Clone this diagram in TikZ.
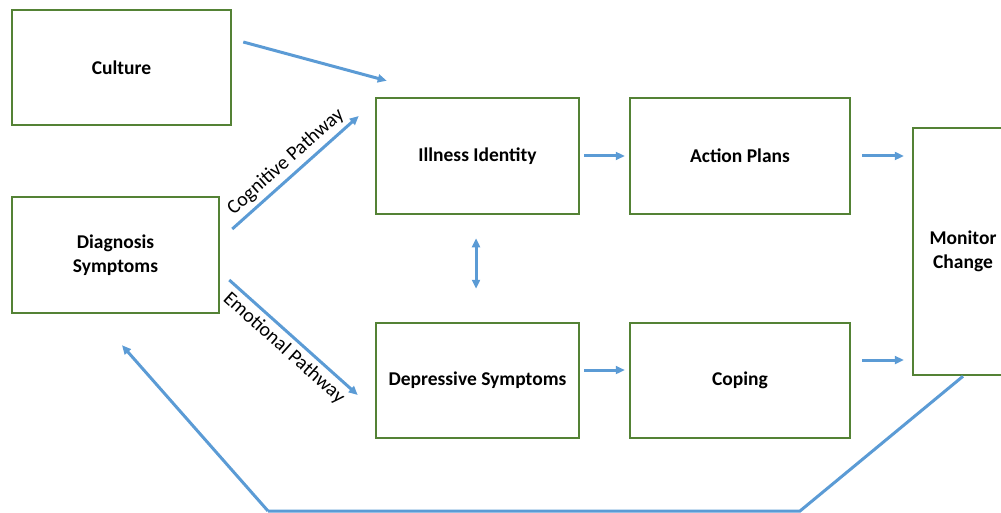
\documentclass[tikz,border=0pt]{standalone}
\usepackage{fontspec}
\setmainfont{Carlito}
\usetikzlibrary{arrows.meta}
\definecolor{boxgreen}{HTML}{548235}
\definecolor{arrowblue}{HTML}{5B9BD5}
\begin{document}
\begin{tikzpicture}[x=1pt,y=-1pt,
  box/.style={draw=boxgreen,line width=2.5pt,fill=white,inner sep=0pt,
    font=\fontsize{19.5}{24}\selectfont\bfseries,align=center},
  conn/.style={draw=arrowblue,line width=3pt,
    -{Triangle[length=9pt,width=8pt]}},
  twoway/.style={draw=arrowblue,line width=3pt,
    {Triangle[length=9pt,width=8pt]}-{Triangle[length=9pt,width=8pt]}},
  plain/.style={draw=arrowblue,line width=3pt,line join=miter},
  lab/.style={font=\fontsize{20}{24}\selectfont,sloped,midway}]
\useasboundingbox (0,0) rectangle (1001,513);
\clip (0,0) rectangle (1001,513);
\node[box,minimum width=219pt,minimum height=115pt] (culture) at (121.5,67.5) {Culture};
\node[box,minimum width=207pt,minimum height=116pt] (diag) at (115.5,255) {Diagnosis\\Symptoms};
\node[box,minimum width=203pt,minimum height=116pt] (ill) at (477.5,156) {Illness Identity};
\node[box,minimum width=220pt,minimum height=116pt] (act) at (740,156) {Action Plans};
\node[box,minimum width=203pt,minimum height=115pt] (dep) at (477.5,380.5) {Depressive Symptoms};
\node[box,minimum width=220pt,minimum height=115pt] (cop) at (740,380.5) {Coping};
\node[box,minimum width=100pt,minimum height=247pt] (mon) at (963,251.5) {Monitor\\Change};
\coordinate (fbA) at (800,511);
\coordinate (fbB) at (268,511);
% arrows
\draw[conn] ([xshift=11pt,yshift=25.5pt]culture.east) -- ([xshift=12pt,yshift=16pt]ill.north west);
\draw[conn] ([xshift=12pt,yshift=26pt]diag.east) -- node[lab,above=1pt]{Cognitive Pathway} ([xshift=-16pt,yshift=40pt]ill.west);
\draw[conn] ([xshift=9pt,yshift=-25pt]diag.east) -- node[lab,below=1pt]{Emotional Pathway} ([xshift=-17pt,yshift=-14.5pt]dep.west);
\draw[conn,shorten <=4pt,shorten >=4pt] (ill.east) -- (act.west);
\draw[conn,shorten <=4pt,shorten >=4pt] ([yshift=10.5pt]dep.east) -- ([yshift=10.5pt]cop.west);
\draw[conn,shorten <=11pt,shorten >=8pt] (act.east) -- (act.east -| mon.west);
\draw[conn,shorten <=11pt,shorten >=8pt] ([yshift=20.5pt]cop.east) -- ([yshift=20.5pt]cop.east -| mon.west);
\draw[twoway,shorten <=23pt,shorten >=33pt] ([xshift=-1.5pt]ill.south) -- ([xshift=-1.5pt]dep.north);
\draw[plain] (mon.south) -- (fbA) -- (fbB);
\draw[conn] (fbB) -- ([xshift=6.5pt,yshift=-31pt]diag.south);
\end{tikzpicture}
\end{document}
